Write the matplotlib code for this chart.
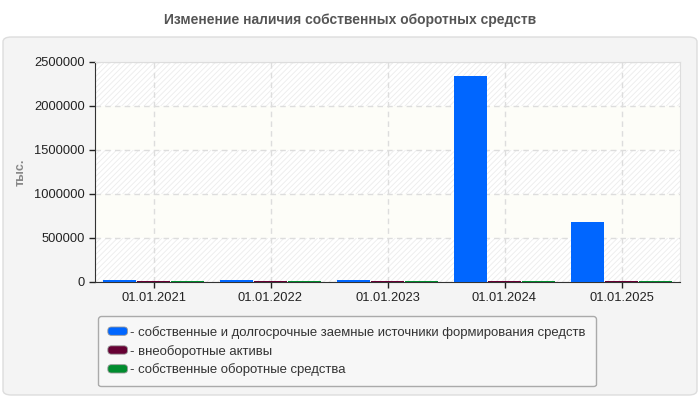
import matplotlib
matplotlib.use("Agg")
import matplotlib.pyplot as plt
import numpy as np
from matplotlib.patches import FancyBboxPatch, Rectangle
from matplotlib.legend_handler import HandlerPatch

plt.rcParams['font.family'] = ['Liberation Sans', 'DejaVu Sans']
plt.rcParams['hatch.linewidth'] = 0.6

categories = ["01.01.2021", "01.01.2022", "01.01.2023", "01.01.2024", "01.01.2025"]
series_names = [
    "- собственные и долгосрочные заемные источники формирования средств",
    "- внеоборотные активы",
    "- собственные оборотные средства",
]
own_longterm = [18000, 18000, 18000, 2340000, 680000]
noncurrent = [16000, 16000, 16000, 16000, 16000]
own_working = [17000, 17000, 17000, 17000, 17000]
colors = ["#0066ff", "#660033", "#008c2e"]
yticks = [0, 500000, 1000000, 1500000, 2000000, 2500000]

fig = plt.figure(figsize=(7, 4), dpi=100)
fig.patch.set_facecolor("white")

# panel background
panel = FancyBboxPatch((3/700, 5/400), 694/700, 358/400,
                       boxstyle="round,pad=0,rounding_size=0.012",
                       transform=fig.transFigure, facecolor="#f4f4f4",
                       edgecolor="#dddddd", linewidth=1, zorder=-10)
fig.patches.append(panel)

fig.text(0.5, 1 - 20/400, "Изменение наличия собственных оборотных средств",
         ha="center", va="center", fontsize=10, fontweight="bold", color="#555555")

ax = fig.add_axes([95/700, 1 - 282/400, 585/700, 220/400])
ax.set_zorder(2)
ax.set_facecolor("white")
ax.set_xlim(0, len(categories))
ax.set_ylim(0, 2500000)

# background bands
for i in range(5):
    y0 = i * 500000
    if i % 2 == 0:
        ax.add_patch(Rectangle((0, y0), len(categories), 500000, facecolor="white",
                               edgecolor="#ececec", hatch="//////", linewidth=0, zorder=0))
    else:
        ax.add_patch(Rectangle((0, y0), len(categories), 500000, facecolor="#fdfdf8",
                               edgecolor="none", linewidth=0, zorder=0))

x = np.arange(len(categories)) + 0.5
w = 0.28
data = [own_longterm, noncurrent, own_working]
for k, (vals, c) in enumerate(zip(data, colors)):
    ax.bar(x + (k - 1) * (w + 0.01), vals, width=w, color=c, zorder=3, linewidth=0)

ax.set_xticks(x)
ax.set_xticklabels(categories)
ax.set_yticks(yticks)
ax.set_yticklabels([str(v) for v in yticks])
ax.tick_params(axis="both", labelsize=9.3, colors="#222222", length=4, width=1)
ax.tick_params(axis="x", pad=3)
ax.grid(True, color="#dddddd", linestyle=(0, (4, 3)), linewidth=1, zorder=1)
ax.set_axisbelow(True)
for s in ["top", "right"]:
    ax.spines[s].set_color("#dddddd")
for s in ["left", "bottom"]:
    ax.spines[s].set_color("#333333")

ax.set_ylabel("тыс.", fontsize=9, fontweight="bold", color="#888888", labelpad=5)


class RoundHandler(HandlerPatch):
    def create_artists(self, legend, orig_handle, xdescent, ydescent, width, height, fontsize, trans):
        p = FancyBboxPatch((-xdescent, -ydescent), width, height,
                           boxstyle="round,pad=0,rounding_size=2.5",
                           facecolor=orig_handle.get_facecolor(),
                           edgecolor="#999999", linewidth=0.6, transform=trans)
        return [p]


handles = [Rectangle((0, 0), 1, 1, facecolor=c) for c in colors]
leg = fig.legend(handles, series_names, loc="upper left",
                 bbox_to_anchor=(98/700, 1 - 316/400), borderaxespad=0, fontsize=9.45,
                 frameon=True, fancybox=True, handlelength=1.5, handleheight=0.6,
                 handletextpad=0.2, labelspacing=0.45, borderpad=0.75,
                 handler_map={Rectangle: RoundHandler()})
leg.get_frame().set_facecolor("#f7f7f7")
leg.get_frame().set_edgecolor("#aaaaaa")
leg.get_frame().set_alpha(1)
for t in leg.get_texts():
    t.set_color("#333333")

fig.savefig("out.png", dpi=100, facecolor=fig.get_facecolor())
